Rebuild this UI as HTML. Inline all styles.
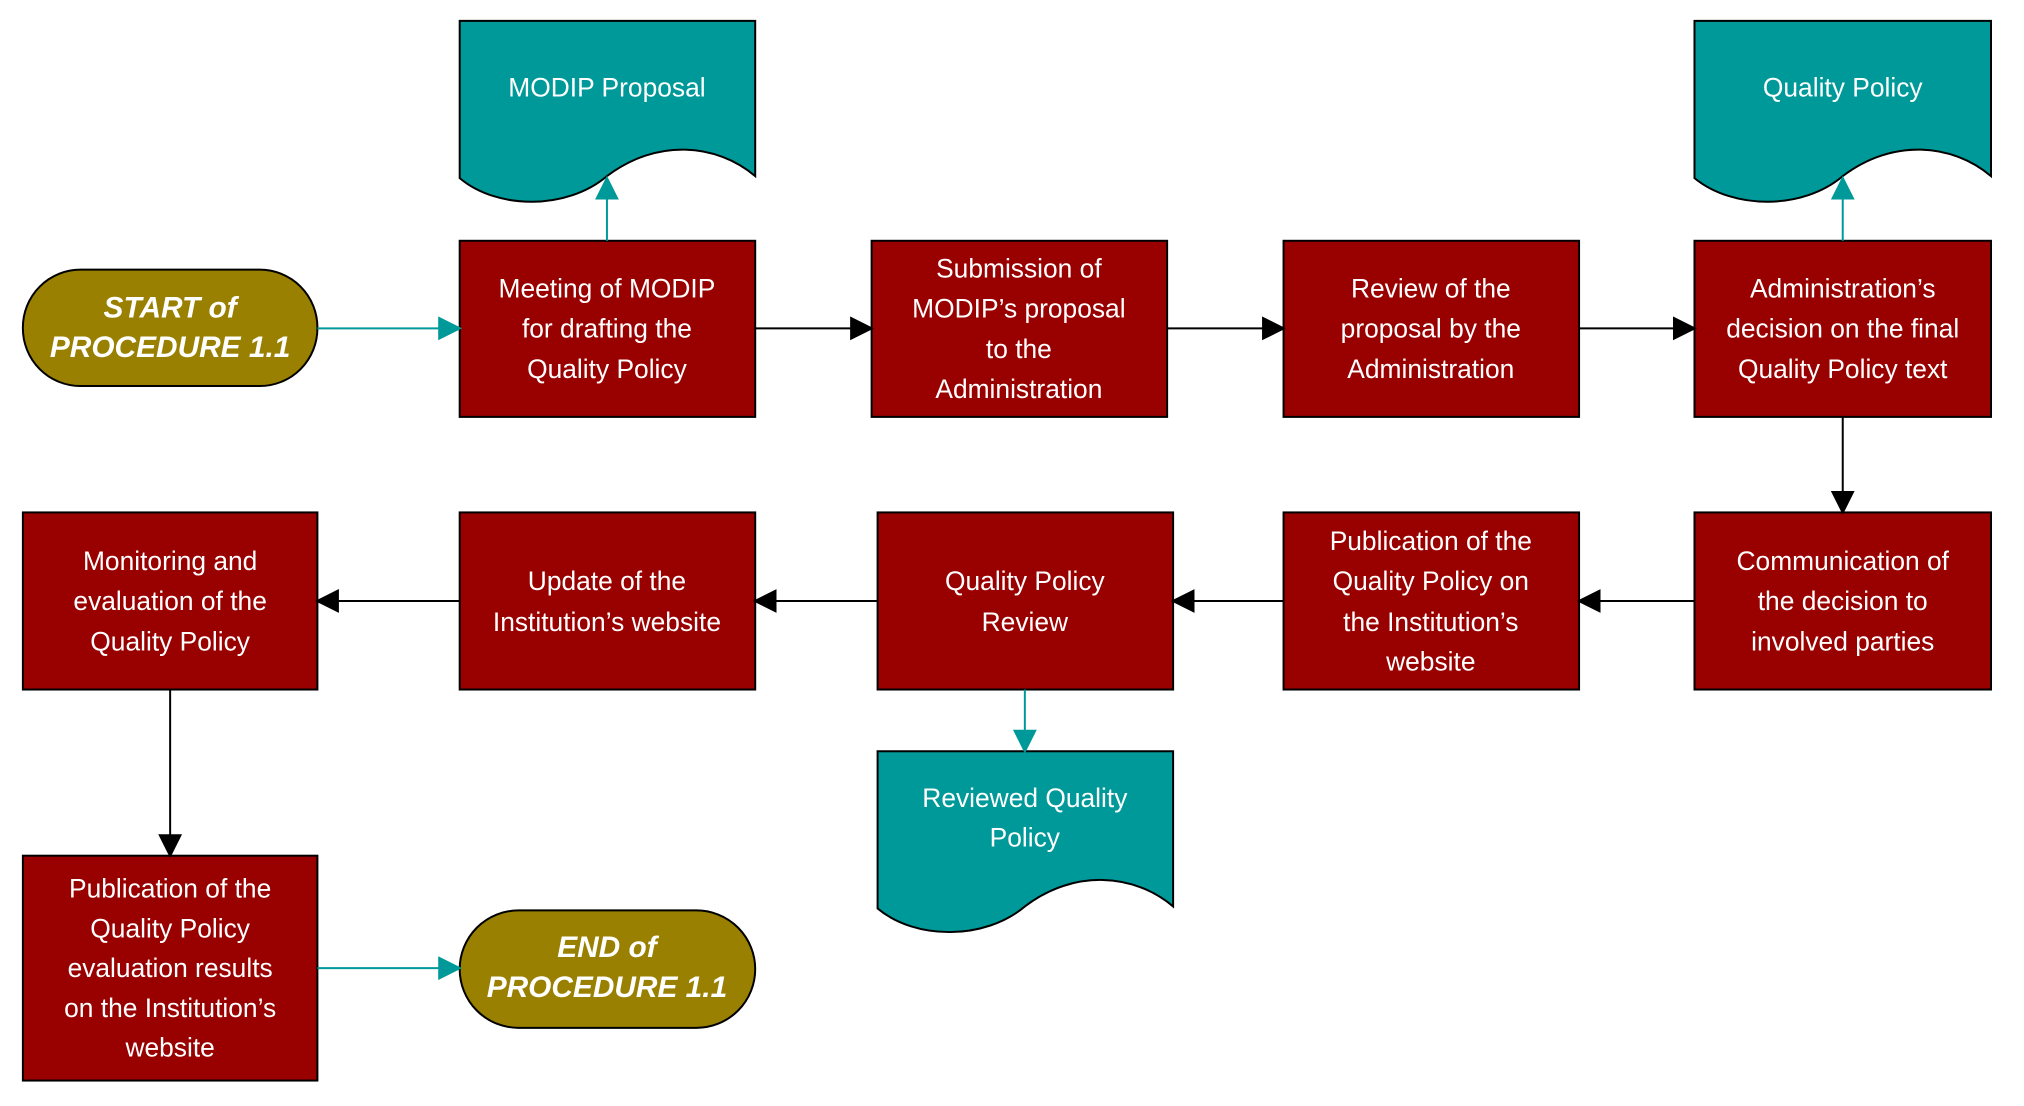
<!DOCTYPE html>
<html><head><meta charset="utf-8"><style>
html,body{margin:0;padding:0;background:#fff;}
svg{display:block;}
text{font-family:"Liberation Sans",sans-serif;font-size:26.5px;fill:#fff;text-anchor:middle;}
.b{font-weight:bold;font-style:italic;font-size:30px;}
</style></head><body>
<svg width="2024" height="1106" viewBox="0 0 2024 1106" xmlns="http://www.w3.org/2000/svg">
<defs>
<marker id="at" viewBox="0 0 10 10" refX="9" refY="5" markerWidth="24" markerHeight="24" orient="auto" markerUnits="userSpaceOnUse"><path d="M0,0 L10,5 L0,10z" fill="#009999"/></marker>
<marker id="ak2" viewBox="0 0 10 10" refX="9" refY="5" markerWidth="24" markerHeight="24" orient="auto" markerUnits="userSpaceOnUse"><path d="M0,0 L10,5 L0,10z" fill="#000"/></marker>
</defs>
<g transform="translate(0,-1) scale(0.995)">
<g stroke="#000" stroke-width="2">
<path d="M462,22 H759 V178 C720,145 660,140 610,178 C570,212 500,212 462,180 Z" fill="#009999"/>
<path d="M1703,22 H2001 V178 C1962,145 1902,140 1852,178 C1812,212 1742,212 1703,180 Z" fill="#009999"/>
<path d="M882,756 H1179 V912 C1140,879 1080,874 1030,912 C990,946 920,946 882,914 Z" fill="#009999"/>
<rect x="23" y="272" width="296" height="117" rx="58" fill="#998000"/>
<rect x="462" y="916" width="297" height="118" rx="59" fill="#998000"/>
<g fill="#990000">
<rect x="462" y="243" width="297" height="177"/>
<rect x="876" y="243" width="297" height="177"/>
<rect x="1290" y="243" width="297" height="177"/>
<rect x="1703" y="243" width="298" height="177"/>
<rect x="23" y="516" width="296" height="178"/>
<rect x="462" y="516" width="297" height="178"/>
<rect x="882" y="516" width="297" height="178"/>
<rect x="1290" y="516" width="297" height="178"/>
<rect x="1703" y="516" width="298" height="178"/>
<rect x="23" y="861" width="296" height="226"/>
</g>
</g>
<g stroke-width="2" fill="none">
<line x1="319" y1="331" x2="462" y2="331" stroke="#009999" marker-end="url(#at)"/>
<line x1="610" y1="243" x2="610" y2="180" stroke="#009999" marker-end="url(#at)"/>
<line x1="1852" y1="243" x2="1852" y2="180" stroke="#009999" marker-end="url(#at)"/>
<line x1="1030" y1="694" x2="1030" y2="756" stroke="#009999" marker-end="url(#at)"/>
<line x1="319" y1="974" x2="462" y2="974" stroke="#009999" marker-end="url(#at)"/>
<line x1="759" y1="331" x2="876" y2="331" stroke="#000" marker-end="url(#ak2)"/>
<line x1="1173" y1="331" x2="1290" y2="331" stroke="#000" marker-end="url(#ak2)"/>
<line x1="1587" y1="331" x2="1703" y2="331" stroke="#000" marker-end="url(#ak2)"/>
<line x1="1852" y1="420" x2="1852" y2="516" stroke="#000" marker-end="url(#ak2)"/>
<line x1="1703" y1="605" x2="1587" y2="605" stroke="#000" marker-end="url(#ak2)"/>
<line x1="1290" y1="605" x2="1179" y2="605" stroke="#000" marker-end="url(#ak2)"/>
<line x1="882" y1="605" x2="759" y2="605" stroke="#000" marker-end="url(#ak2)"/>
<line x1="462" y1="605" x2="319" y2="605" stroke="#000" marker-end="url(#ak2)"/>
<line x1="171" y1="694" x2="171" y2="861" stroke="#000" marker-end="url(#ak2)"/>
</g>
<text x="610" y="98">MODIP Proposal</text>
<text x="1852" y="98">Quality Policy</text>
<text x="1030" y="812">Reviewed Quality</text>
<text x="1030" y="852">Policy</text>
<text class="b" x="171" y="320">START of</text>
<text class="b" x="171" y="360">PROCEDURE 1.1</text>
<text class="b" x="610" y="963">END of</text>
<text class="b" x="610" y="1003">PROCEDURE 1.1</text>
<text x="610" y="300">Meeting of MODIP</text>
<text x="610" y="340">for drafting the</text>
<text x="610" y="381">Quality Policy</text>
<text x="1024" y="280">Submission of</text>
<text x="1024" y="320">MODIP’s proposal</text>
<text x="1024" y="361">to the</text>
<text x="1024" y="401">Administration</text>
<text x="1438" y="300">Review of the</text>
<text x="1438" y="340">proposal by the</text>
<text x="1438" y="381">Administration</text>
<text x="1852" y="300">Administration’s</text>
<text x="1852" y="340">decision on the final</text>
<text x="1852" y="381">Quality Policy text</text>
<text x="1852" y="574">Communication of</text>
<text x="1852" y="614">the decision to</text>
<text x="1852" y="655">involved parties</text>
<text x="1438" y="554">Publication of the</text>
<text x="1438" y="594">Quality Policy on</text>
<text x="1438" y="635">the Institution’s</text>
<text x="1438" y="675">website</text>
<text x="1030" y="594">Quality Policy</text>
<text x="1030" y="635">Review</text>
<text x="610" y="594">Update of the</text>
<text x="610" y="635">Institution’s website</text>
<text x="171" y="574">Monitoring and</text>
<text x="171" y="614">evaluation of the</text>
<text x="171" y="655">Quality Policy</text>
<text x="171" y="903">Publication of the</text>
<text x="171" y="943">Quality Policy</text>
<text x="171" y="983">evaluation results</text>
<text x="171" y="1023">on the Institution’s</text>
<text x="171" y="1063">website</text>
</g>
</svg>
</body></html>
